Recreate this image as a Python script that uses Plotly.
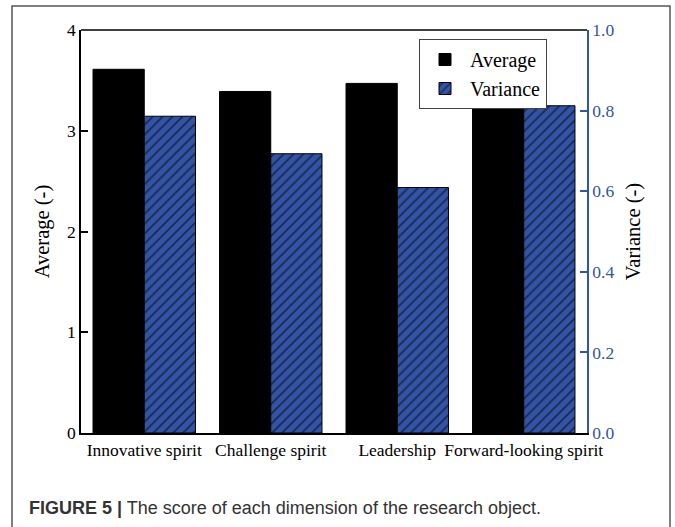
import plotly.graph_objects as go

categories = ["Innovative spirit", "Challenge spirit", "Leadership", "Forward-looking spirit"]
average = [3.61, 3.39, 3.47, 3.25]
variance = [0.786, 0.693, 0.609, 0.812]
left_ticks = [0, 1, 2, 3, 4]
right_ticks = [0.0, 0.2, 0.4, 0.6, 0.8, 1.0]

W, H = 675, 527
L, R, T, B = 81, 587, 30, 433

BLUE = "#3353a5"
SERIF = "Liberation Serif, Times New Roman, serif"

fig = go.Figure()
fig.add_trace(go.Bar(
    x=categories, y=average, name="Average", offsetgroup="a",
    marker=dict(color="black", line=dict(color="black", width=1)),
    yaxis="y",
))
fig.add_trace(go.Bar(
    x=categories, y=variance, name="Variance", offsetgroup="b",
    marker=dict(color=BLUE, line=dict(color="black", width=1),
                pattern=dict(shape="/", fgcolor="black", bgcolor=BLUE, size=7, solidity=0.25)),
    yaxis="y2",
))

def px2x(px):
    return (px - L) / (R - L)

def py2y(py):
    return (B - py) / (B - T)

fig.update_layout(
    width=W, height=H,
    margin=dict(l=L, r=W - R, t=T, b=H - B),
    paper_bgcolor="white", plot_bgcolor="white",
    barmode="group", bargap=0.19, bargroupgap=0,
    showlegend=True,
    legend=dict(
        x=px2x(419), y=py2y(39), xanchor="left", yanchor="top",
        bgcolor="white", bordercolor="#444", borderwidth=1,
        font=dict(family=SERIF, size=20, color="black"),
        itemwidth=40, tracegroupgap=0,
    ),
    font=dict(family=SERIF, color="black"),
    xaxis=dict(
        type="category", showline=True, linecolor="black", linewidth=1.5,
        mirror=False, ticks="", tickfont=dict(family=SERIF, size=17.5, color="black"),
        showgrid=False, zeroline=False,
    ),
    yaxis=dict(
        range=[0, 4], tickvals=left_ticks, ticktext=[str(v) for v in left_ticks],
        showline=True, linecolor="black", linewidth=1.5, ticks="inside", ticklen=7,
        tickcolor="black", tickwidth=1.5,
        tickfont=dict(family=SERIF, size=17.5, color="black"),
        title=dict(text="Average (-)", font=dict(family=SERIF, size=20.5, color="black"), standoff=12),
        showgrid=False, zeroline=False,
    ),
    yaxis2=dict(
        range=[0, 1.0], tickvals=right_ticks, ticktext=[f"{v:.1f}" for v in right_ticks],
        overlaying="y", side="right",
        showline=True, linecolor=BLUE, linewidth=1.5, ticks="inside", ticklen=7,
        tickcolor=BLUE, tickwidth=1.5,
        tickfont=dict(family=SERIF, size=17.5, color=BLUE),
        title=dict(text="Variance (-)", font=dict(family=SERIF, size=20.5, color="black"), standoff=12),
        showgrid=False, zeroline=False,
    ),
    shapes=[
        dict(type="line", xref="paper", yref="paper", x0=0, x1=1, y0=1, y1=1,
             line=dict(color="black", width=1.5)),
        dict(type="rect", xref="paper", yref="paper",
             x0=px2x(12), x1=px2x(670), y0=py2y(6), y1=py2y(540),
             line=dict(color="#555", width=1.5), fillcolor="rgba(0,0,0,0)", layer="below"),
    ],
    annotations=[
        dict(text="<b>FIGURE 5 |</b> The score of each dimension of the research object.",
             xref="paper", yref="paper", x=px2x(27), y=py2y(508),
             xanchor="left", yanchor="middle", showarrow=False,
             font=dict(family="Liberation Sans, Arial, sans-serif", size=18, color="#333")),
    ],
)

fig.write_html("out.html", config={"displayModeBar": False},
               post_script="document.body.style.margin='0';")
